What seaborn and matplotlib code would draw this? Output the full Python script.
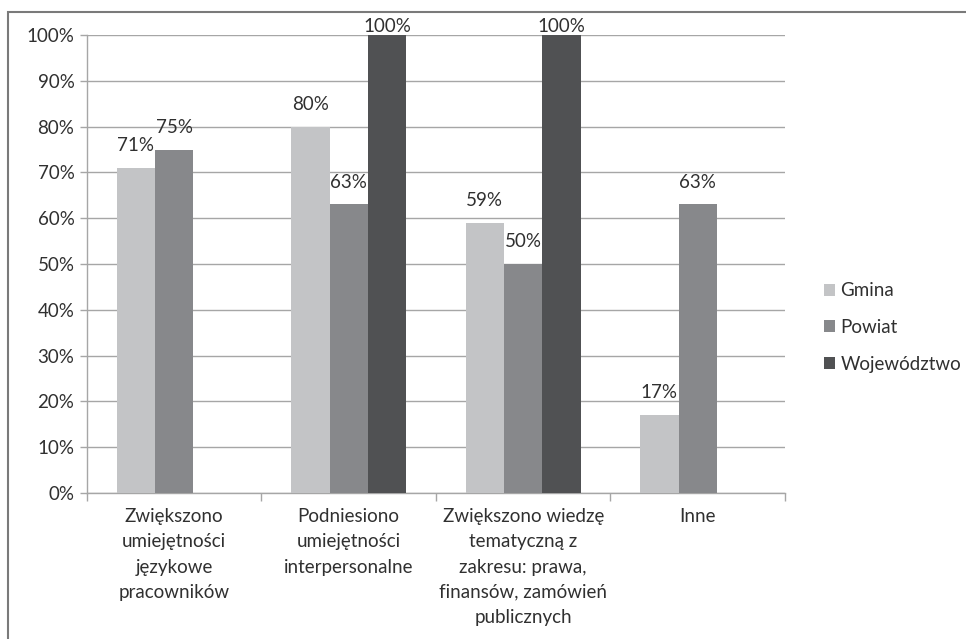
import numpy as np
import pandas as pd
import matplotlib
matplotlib.use("Agg")
import matplotlib.pyplot as plt
from matplotlib.patches import Rectangle
import seaborn as sns

# --- data -------------------------------------------------------------
categories = [
    "Zwiększono\numiejętności\njęzykowe\npracowników",
    "Podniesiono\numiejętności\ninterpersonalne",
    "Zwiększono wiedzę\ntematyczną z\nzakresu: prawa,\nfinansów, zamówień\npublicznych",
    "Inne",
]
series = ["Gmina", "Powiat", "Województwo"]
gmina = [71, 80, 59, 17]
powiat = [75, 63, 50, 63]
wojewodztwo = [np.nan, 100, 100, np.nan]
yticks = [0, 10, 20, 30, 40, 50, 60, 70, 80, 90, 100]

colors = ["#c3c4c6", "#87888b", "#505153"]

rows = []
for name, vals in zip(series, [gmina, powiat, wojewodztwo]):
    for cat, v in zip(categories, vals):
        rows.append({"kategoria": cat, "jednostka": name, "wartosc": v})
df = pd.DataFrame(rows)

# --- figure -----------------------------------------------------------
sns.set_theme(style="white")
plt.rcParams["font.family"] = ["Lato", "DejaVu Sans"]
text_color = "#303030"
grid_color = "#a6a6a6"
fs = 13.5

fig = plt.figure(figsize=(9.66, 6.39), dpi=100)
ax = fig.add_axes([0.090, 0.2285, 0.7226, 0.7167])

sns.barplot(
    data=df, x="kategoria", y="wartosc", hue="jednostka",
    hue_order=series, order=categories, palette=colors,
    width=0.66, gap=0, dodge=True, saturation=1, ax=ax, zorder=3,
    err_kws={"linewidth": 0}, linewidth=0,
)

ax.set_ylim(0, 100)
ax.set_xlim(-0.5, len(categories) - 0.5)
ax.set_yticks(yticks)
ax.set_yticklabels([f"{t}%" for t in yticks], fontsize=fs, color=text_color)
ax.set_xticks(range(len(categories)))
ax.set_xticklabels(categories, fontsize=fs, color=text_color, linespacing=1.58)
ax.set_xlabel("")
ax.set_ylabel("")

# gridlines and axes
ax.yaxis.grid(True, color=grid_color, linewidth=1.0, zorder=0)
ax.set_axisbelow(True)
for side in ["top", "right"]:
    ax.spines[side].set_visible(False)
for side in ["left", "bottom"]:
    ax.spines[side].set_color(grid_color)
    ax.spines[side].set_linewidth(1.0)
ax.tick_params(axis="y", which="major", length=5, width=1, color=grid_color,
               left=True, pad=4)
ax.tick_params(axis="x", which="major", length=0, pad=11)
# category boundary ticks on the x axis
ax.set_xticks(np.arange(-0.5, len(categories) + 0.5, 1.0), minor=True)
ax.tick_params(axis="x", which="minor", length=6, width=1, color=grid_color,
               bottom=True, direction="out")

# value labels above bars
for container, name in zip(ax.containers, series):
    for bar in container:
        h = bar.get_height()
        if np.isnan(h) or h == 0:
            continue
        off = 0 if h >= 100 else 10
        ax.annotate(f"{h:.0f}%", (bar.get_x() + bar.get_width() / 2, h),
                    xytext=(0, off), textcoords="offset points",
                    ha="center", va="bottom", fontsize=fs, color=text_color,
                    annotation_clip=False, zorder=5)

# legend on the right
handles, labels = ax.get_legend_handles_labels()
leg = ax.legend(handles, labels, loc="center left",
                bbox_to_anchor=(0.843, 0.4875), bbox_transform=fig.transFigure,
                frameon=False, fontsize=fs, handlelength=0.6, handleheight=0.6,
                handletextpad=0.3, labelspacing=1.05, borderpad=0)
for t in leg.get_texts():
    t.set_color(text_color)

# outer frame
fig.patches.append(Rectangle((8 / 966, -0.05), 1.1, 1.05 - 12 / 639,
                             transform=fig.transFigure, fill=False,
                             edgecolor="#7a7a7a", linewidth=1.5))

fig.savefig("out.png", dpi=100, facecolor="white")
